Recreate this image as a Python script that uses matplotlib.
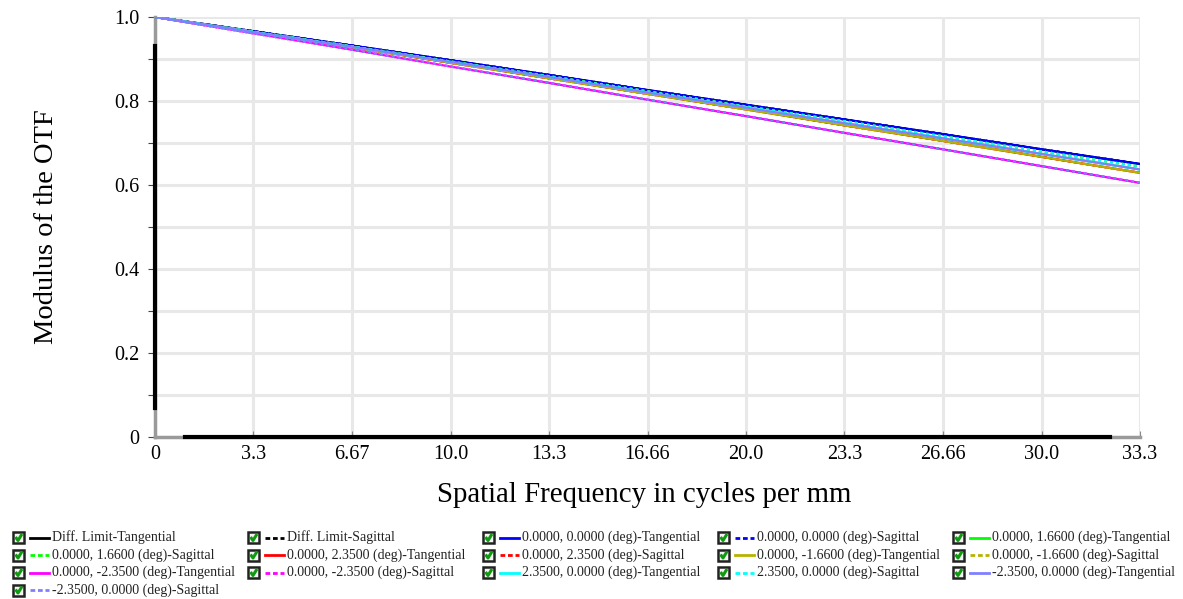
import numpy as np
import matplotlib
matplotlib.use('Agg')
import matplotlib.pyplot as plt
from matplotlib.patches import Rectangle

plt.rcParams['font.family'] = ['Liberation Serif', 'DejaVu Serif']

# spatial frequency (cycles/mm) at the grid lines
freq = [0, 3.333, 6.667, 10.0, 13.333, 16.667, 20.0, 23.333, 26.667, 30.0, 33.333]
xtick_labels = ['0', '3.3', '6.67', '10.0', '13.3', '16.66', '20.0', '23.3', '26.66', '30.0', '33.3']

# MTF curves
diff_t = [1, 0.966, 0.932, 0.897, 0.862, 0.826, 0.791, 0.756, 0.721, 0.685, 0.650]
diff_s = [1, 0.966, 0.932, 0.897, 0.862, 0.826, 0.791, 0.756, 0.721, 0.685, 0.650]
f00_t = [1, 0.966, 0.932, 0.897, 0.862, 0.826, 0.791, 0.756, 0.721, 0.685, 0.650]
f00_s = [1, 0.966, 0.932, 0.897, 0.862, 0.826, 0.791, 0.756, 0.721, 0.685, 0.650]
f166_t = [1, 0.964, 0.929, 0.893, 0.857, 0.820, 0.784, 0.747, 0.711, 0.674, 0.637]
f166_s = [1, 0.965, 0.930, 0.894, 0.859, 0.823, 0.787, 0.752, 0.716, 0.680, 0.644]
f235_t = [1, 0.964, 0.928, 0.891, 0.854, 0.817, 0.780, 0.742, 0.705, 0.667, 0.629]
f235_s = [1, 0.964, 0.928, 0.891, 0.854, 0.817, 0.780, 0.742, 0.705, 0.667, 0.629]
fm166_t = [1, 0.964, 0.928, 0.891, 0.854, 0.817, 0.780, 0.742, 0.705, 0.667, 0.629]
fm166_s = [1, 0.965, 0.930, 0.894, 0.859, 0.823, 0.787, 0.752, 0.716, 0.680, 0.644]
fm235_t = [1, 0.961, 0.922, 0.882, 0.843, 0.803, 0.764, 0.724, 0.685, 0.645, 0.605]
fm235_s = [1, 0.961, 0.922, 0.882, 0.843, 0.803, 0.764, 0.724, 0.685, 0.645, 0.605]
x235_t = [1, 0.964, 0.929, 0.893, 0.857, 0.820, 0.784, 0.747, 0.711, 0.674, 0.637]
x235_s = [1, 0.965, 0.930, 0.894, 0.859, 0.823, 0.787, 0.752, 0.716, 0.680, 0.644]
xm235_t = [1, 0.964, 0.929, 0.893, 0.857, 0.820, 0.784, 0.747, 0.711, 0.674, 0.637]
xm235_s = [1, 0.961, 0.922, 0.882, 0.843, 0.803, 0.764, 0.724, 0.685, 0.645, 0.605]

labels = ['Diff. Limit-Tangential', 'Diff. Limit-Sagittal',
          '0.0000, 0.0000 (deg)-Tangential', '0.0000, 0.0000 (deg)-Sagittal',
          '0.0000, 1.6600 (deg)-Tangential', '0.0000, 1.6600 (deg)-Sagittal',
          '0.0000, 2.3500 (deg)-Tangential', '0.0000, 2.3500 (deg)-Sagittal',
          '0.0000, -1.6600 (deg)-Tangential', '0.0000, -1.6600 (deg)-Sagittal',
          '0.0000, -2.3500 (deg)-Tangential', '0.0000, -2.3500 (deg)-Sagittal',
          '2.3500, 0.0000 (deg)-Tangential', '2.3500, 0.0000 (deg)-Sagittal',
          '-2.3500, 0.0000 (deg)-Tangential', '-2.3500, 0.0000 (deg)-Sagittal']
series = [diff_t, diff_s, f00_t, f00_s, f166_t, f166_s, f235_t, f235_s,
          fm166_t, fm166_s, fm235_t, fm235_s, x235_t, x235_s, xm235_t, xm235_s]
colors = ['black', 'black', '#0000ff', '#0000ff', '#00ff00', '#00ff00',
          '#ff0000', '#ff0000', '#b4b400', '#b4b400', '#ff00ff', '#ff00ff',
          '#00ffff', '#00ffff', '#8080ff', '#8080ff']

fig = plt.figure(figsize=(11.83, 5.99), dpi=100)
ax = fig.add_axes([155 / 1183, 1 - 437 / 599, 985 / 1183, 420 / 599])

for i, (vals, lab, col) in enumerate(zip(series, labels, colors)):
    ls = '-' if i % 2 == 0 else (0, (1.3, 1.4))
    ax.plot(freq, vals, color=col, lw=1.6, linestyle=ls, label=lab, zorder=3)

ax.set_xlim(0, 33.333)
ax.set_ylim(0, 1)
ax.set_xticks(freq)
ax.set_xticklabels(xtick_labels)
ax.set_yticks(np.arange(0, 1.01, 0.1))
ax.set_yticklabels(['0', '', '0.2', '', '0.4', '', '0.6', '', '0.8', '', '1.0'])
ax.grid(True, color='#e8e8e8', lw=2.2, zorder=0)
ax.tick_params(axis='y', direction='out', length=5, color='#444444', labelsize=14.5, pad=6)
ax.tick_params(axis='x', direction='in', length=4, color='#888888', labelsize=14.5, pad=6)
for s in ['top', 'right']:
    ax.spines[s].set_visible(False)
for s in ['left', 'bottom']:
    ax.spines[s].set_color('#9a9a9a')
    ax.spines[s].set_linewidth(2.5)
# dark scroll-bar segments on the axes
ax.plot([0, 0], [0.07, 0.93], transform=ax.transAxes, color='black', lw=3, clip_on=False, zorder=5)
ax.plot([0.03, 0.97], [0, 0], transform=ax.transAxes, color='black', lw=3, clip_on=False, zorder=5)

ax.set_xlabel('Spatial Frequency in cycles per mm', fontsize=20.8)
ax.set_ylabel('Modulus of the OTF', fontsize=20.5)
ax.xaxis.set_label_coords(0.497, -0.108)
ax.yaxis.set_label_coords(-0.097, 0.5)

# legend drawn in pixel coordinates
lg = fig.add_axes([0, 0, 1, 1], zorder=10)
lg.set_xlim(0, 1183)
lg.set_ylim(599, 0)
lg.axis('off')
col_x = [13, 248, 483, 718, 953]
row_y = [537.5, 555, 572.5, 590]
for i, (lab, col) in enumerate(zip(labels, colors)):
    r, c = divmod(i, 5)
    x0, y0 = col_x[c], row_y[r]
    lg.add_patch(Rectangle((x0, y0 - 5.5), 11, 11, facecolor='#f4f4f4', edgecolor='#222222', lw=1.8))
    lg.plot([x0 + 2.5, x0 + 5, x0 + 9], [y0 - 0.5, y0 + 3, y0 - 3.5], color='#109a10', lw=2.2,
            solid_capstyle='butt')
    ls = '-' if i % 2 == 0 else (0, (1.7, 1.0))
    lg.plot([x0 + 17, x0 + 36], [y0, y0], color=col, lw=2, linestyle=ls)
    lg.text(x0 + 39, y0, lab, fontsize=10, va='center', ha='left', color='#222222')

fig.savefig('out.png', dpi=100)
